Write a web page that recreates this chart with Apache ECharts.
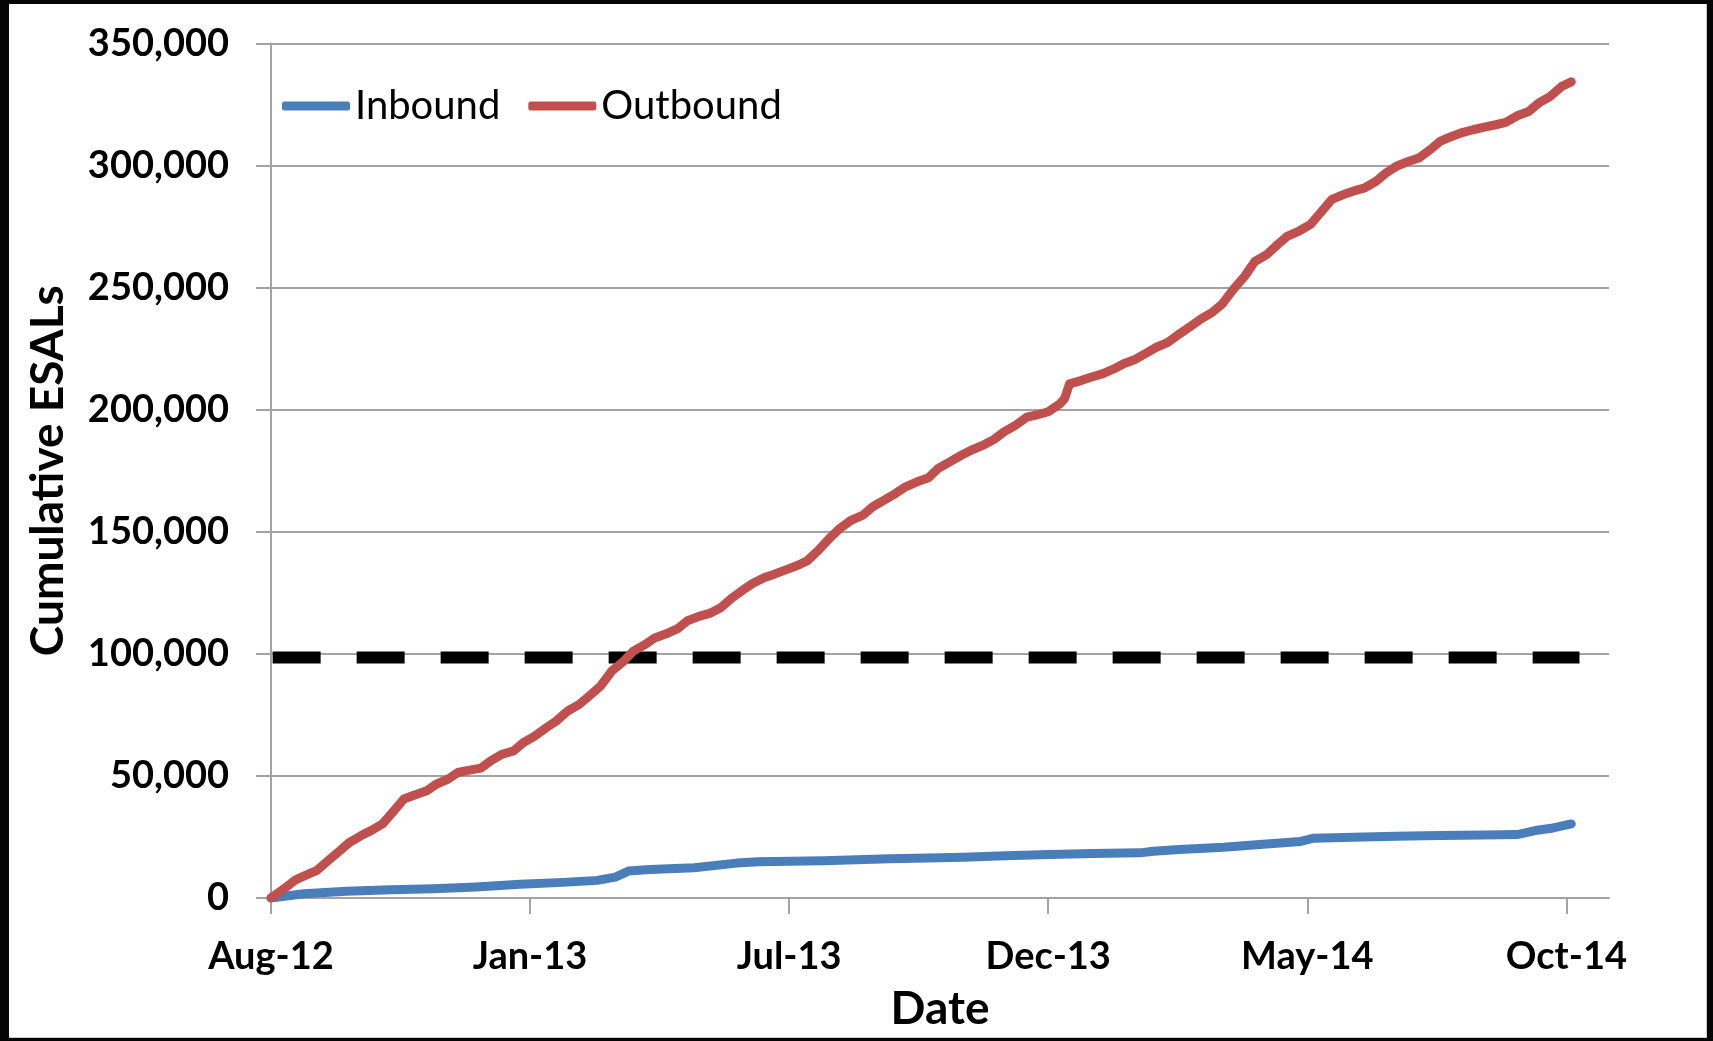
<!DOCTYPE html>
<html>
<head>
<meta charset="utf-8">
<script src="https://cdn.jsdelivr.net/npm/echarts@6/dist/echarts.min.js"></script>
<style>
  html, body { margin: 0; padding: 0; width: 1713px; height: 1041px; overflow: hidden; background: #050505; }
  #chart { position: absolute; left: 9px; top: 4px; width: 1698px; height: 1034px; background: #fff;
           box-sizing: border-box; border-right: 1px solid #c8c8c8; border-bottom: 1px solid #c8c8c8; }
</style>
</head>
<body>
<div id="chart"></div>
<script>
// x values are days since the first record (Aug-12)
var xTickDays = [0, 158, 316, 474, 632, 790];
var xTickLabels = ['Aug-12', 'Jan-13', 'Jul-13', 'Dec-13', 'May-14', 'Oct-14'];

var outboundDays = [0,8,15,21,28,35,41,48,55,61,68,75,81,88,95,101,108,114,121,128,134,141,148,154,161,168,174,181,188,194,201,208,214,221,228,234,241,248,254,261,268,274,281,288,294,301,307,314,321,327,334,341,347,354,361,367,374,381,387,394,401,407,414,421,427,434,441,447,454,461,467,474,481,484,487,494,500,507,514,520,527,534,540,547,554,560,567,574,580,587,594,600,607,614,620,627,634,640,647,654,660,667,674,680,687,694,700,707,713,720,727,733,740,747,753,760,767,773,780,787,793];
var outboundValues = [0,3800,7450,9230,11280,15380,18770,22830,25590,27600,30320,35760,40530,42320,43920,46690,48690,51410,52350,53190,56180,58900,60280,63670,66390,69780,72500,76610,79280,82710,86820,93060,96310,101090,103760,106530,108220,110310,113570,115350,116690,118740,122840,126230,128950,131270,132650,134390,136180,138090,142550,147590,151430,154820,156820,160260,162980,165740,168420,170470,172120,176000,178670,181350,183400,185360,187860,190930,193610,196950,197850,199180,202300,204540,210600,211940,213320,214700,216710,218800,220590,223260,225580,227590,231020,233740,237130,239850,243240,249390,254830,260720,263390,267720,271150,273200,275880,280650,286130,288140,289520,290860,293580,296970,299960,301740,303080,306510,309900,311950,313600,314670,315740,316720,317660,320380,322160,325550,328260,332370,334290];

var inboundDays = [0,20,46,73,99,125,152,178,199,210,218,231,258,284,297,337,377,408,422,448,475,501,530,538,554,581,607,628,636,660,686,713,739,760,771,782,793];
var inboundValues = [0,1760,2730,3400,3800,4490,5590,6400,7220,8570,11020,11710,12370,14290,14820,15230,16040,16500,16730,17270,17840,18240,18490,19180,19880,20820,22160,23150,24490,24900,25310,25590,25850,26000,27630,28690,30330];

var limitDays = [1, 798];
var limitValues = [98500, 98500];

function pairs(xs, ys) {
    return xs.map(function (x, i) { return [x, ys[i]]; });
}

var font = 'Lato, "Open Sans", sans-serif';
var gridGray = '#a3a3a3';

var chart = echarts.init(document.getElementById('chart'));
chart.setOption({
    animation: false,
    grid: { left: 262, right: 97, top: 39.5, bottom: 137 },
    legend: {
        data: ['Inbound', 'Outbound'],
        left: 268, top: 75,
        icon: 'roundRect',
        itemWidth: 68, itemHeight: 9, itemGap: 28,
        textStyle: { fontFamily: font, fontSize: 40, color: '#000', lineHeight: 44 }
    },
    xAxis: {
        type: 'value',
        min: 0, max: 816,
        axisLine: { show: true, lineStyle: { color: gridGray, width: 2 } },
        axisTick: { show: true, customValues: xTickDays, length: 16, lineStyle: { color: gridGray, width: 2 } },
        axisLabel: {
            customValues: xTickDays,
            formatter: function (v) { return xTickLabels[xTickDays.indexOf(v)] || ''; },
            fontFamily: font, fontWeight: 'bold', fontSize: 38, color: '#000', margin: 40
        },
        splitLine: { show: false },
        name: 'Date', nameLocation: 'middle', nameGap: 88,
        nameTextStyle: { fontFamily: font, fontWeight: 'bold', fontSize: 46, color: '#000' }
    },
    yAxis: {
        type: 'value',
        min: 0, max: 350000, interval: 50000,
        axisLine: { show: true, lineStyle: { color: gridGray, width: 2 } },
        axisTick: { show: true, length: 15, lineStyle: { color: gridGray, width: 2 } },
        axisLabel: {
            formatter: function (v) { return v.toLocaleString('en-US'); },
            fontFamily: font, fontWeight: 'bold', fontSize: 38, color: '#000', margin: 42
        },
        splitLine: { lineStyle: { color: gridGray, width: 2 } },
        name: 'Cumulative ESALs', nameLocation: 'middle', nameGap: 200, nameRotate: 90,
        nameTextStyle: { fontFamily: font, fontWeight: 'bold', fontSize: 46, color: '#000' }
    },
    series: [
        {
            name: 'limit', type: 'line', data: pairs(limitDays, limitValues),
            symbol: 'none', silent: true, z: 1,
            lineStyle: { color: '#000', width: 12, type: [48, 36], cap: 'butt' }
        },
        {
            name: 'Inbound', type: 'line', data: pairs(inboundDays, inboundValues),
            symbol: 'none', z: 2, color: '#4a7ebb',
            lineStyle: { width: 9, cap: 'round', join: 'round' }
        },
        {
            name: 'Outbound', type: 'line', data: pairs(outboundDays, outboundValues),
            symbol: 'none', z: 3, color: '#c0504d',
            lineStyle: { width: 9, cap: 'round', join: 'round' }
        }
    ]
});
</script>
</body>
</html>
